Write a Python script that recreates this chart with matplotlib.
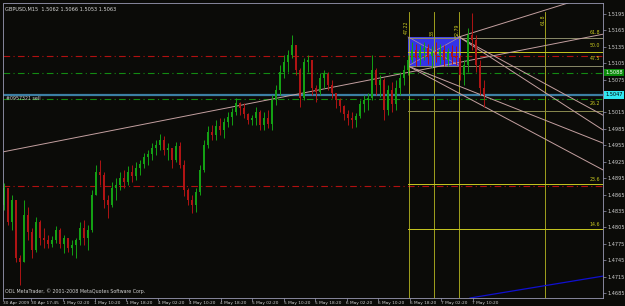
import matplotlib
matplotlib.use('Agg')
import matplotlib.pyplot as plt
import matplotlib.transforms as mtransforms
from matplotlib.patches import Rectangle

# GBPUSD M15, candles grouped by 4 bars
first_open = 1.4846
highs = [1.4886, 1.4873, 1.4864, 1.4855, 1.4754, 1.4855, 1.4842, 1.4804, 1.4824, 1.4818,
         1.4804, 1.4791, 1.4789, 1.4808, 1.4804, 1.4791, 1.4786, 1.4782, 1.4786, 1.4815,
         1.4818, 1.4809, 1.4873, 1.4919, 1.4928, 1.4906, 1.4864, 1.4888, 1.4895, 1.4906,
         1.4910, 1.4917, 1.4919, 1.4924, 1.4928, 1.4941, 1.4946, 1.4959, 1.4965, 1.4976,
         1.4972, 1.4959, 1.4950, 1.4961, 1.4961, 1.4928, 1.4877, 1.4864, 1.4877, 1.4919,
         1.4965, 1.4990, 1.4992, 1.5001, 1.5005, 1.5005, 1.5016, 1.5023, 1.5041, 1.5034,
         1.5032, 1.5014, 1.5010, 1.5025, 1.5020, 1.5016, 1.5020, 1.5047, 1.5065, 1.5102,
         1.5120, 1.5129, 1.5157, 1.5138, 1.5096, 1.5115, 1.5120, 1.5107, 1.5065, 1.5087,
         1.5093, 1.5089, 1.5074, 1.5051, 1.5041, 1.5029, 1.5020, 1.5016, 1.5014, 1.5038,
         1.5047, 1.5051, 1.5120, 1.5096, 1.5084, 1.5078, 1.5065, 1.5071, 1.5074, 1.5089,
         1.5102, 1.5120, 1.5144, 1.5140, 1.5138, 1.5144, 1.5140, 1.5136, 1.5144, 1.5140,
         1.5138, 1.5133, 1.5138, 1.5136, 1.5120, 1.5111, 1.5169, 1.5197, 1.5157, 1.5111,
         1.5074]
lows = [1.4837, 1.4809, 1.4800, 1.4742, 1.4700, 1.4742, 1.4782, 1.4749, 1.4760, 1.4773,
        1.4767, 1.4767, 1.4769, 1.4777, 1.4767, 1.4758, 1.4760, 1.4754, 1.4749, 1.4773,
        1.4773, 1.4764, 1.4797, 1.4864, 1.4882, 1.4840, 1.4822, 1.4842, 1.4855, 1.4873,
        1.4877, 1.4882, 1.4888, 1.4892, 1.4901, 1.4914, 1.4919, 1.4928, 1.4937, 1.4946,
        1.4937, 1.4928, 1.4914, 1.4924, 1.4914, 1.4862, 1.4846, 1.4831, 1.4833, 1.4864,
        1.4906, 1.4950, 1.4965, 1.4965, 1.4974, 1.4968, 1.4988, 1.4992, 1.5010, 1.5010,
        1.5005, 1.4994, 1.4992, 1.4992, 1.4983, 1.4983, 1.4987, 1.4983, 1.5029, 1.5047,
        1.5078, 1.5089, 1.5115, 1.5084, 1.5025, 1.5038, 1.5089, 1.5047, 1.5034, 1.5047,
        1.5060, 1.5056, 1.5041, 1.5023, 1.5016, 1.5001, 1.4992, 1.4987, 1.4988, 1.5005,
        1.5016, 1.5020, 1.5038, 1.5047, 1.5043, 1.5001, 1.5010, 1.5016, 1.5020, 1.5047,
        1.5065, 1.5084, 1.5107, 1.5100, 1.5102, 1.5111, 1.5104, 1.5096, 1.5107, 1.5104,
        1.5100, 1.5100, 1.5104, 1.5102, 1.5074, 1.5065, 1.5089, 1.5129, 1.5089, 1.5047,
        1.5025]
closes = [1.4877, 1.4815, 1.4855, 1.4749, 1.4742, 1.4828, 1.4797, 1.4764, 1.4815, 1.4786,
          1.4782, 1.4775, 1.4782, 1.4800, 1.4775, 1.4786, 1.4767, 1.4773, 1.4782, 1.4804,
          1.4786, 1.4800, 1.4864, 1.4906, 1.4901, 1.4855, 1.4846, 1.4877, 1.4882, 1.4895,
          1.4888, 1.4906, 1.4899, 1.4914, 1.4921, 1.4934, 1.4939, 1.4950, 1.4956, 1.4965,
          1.4946, 1.4950, 1.4928, 1.4954, 1.4919, 1.4873, 1.4855, 1.4846, 1.4870, 1.4910,
          1.4956, 1.4979, 1.4974, 1.4990, 1.4983, 1.4998, 1.5007, 1.5016, 1.5032, 1.5023,
          1.5012, 1.5001, 1.5005, 1.5016, 1.4992, 1.5005, 1.4994, 1.5038, 1.5056, 1.5089,
          1.5107, 1.5120, 1.5138, 1.5093, 1.5041, 1.5107, 1.5111, 1.5060, 1.5052, 1.5078,
          1.5085, 1.5065, 1.5051, 1.5038, 1.5027, 1.5012, 1.5005, 1.5001, 1.5009, 1.5030,
          1.5038, 1.5041, 1.5093, 1.5065, 1.5074, 1.5020, 1.5056, 1.5030, 1.5060, 1.5078,
          1.5093, 1.5111, 1.5129, 1.5115, 1.5129, 1.5133, 1.5118, 1.5126, 1.5120, 1.5129,
          1.5111, 1.5126, 1.5118, 1.5115, 1.5084, 1.5102, 1.5157, 1.5147, 1.5102, 1.5060,
          1.5047]
opens = [first_open] + closes[:-1]

price_ticks = [1.4685, 1.4715, 1.4745, 1.4775, 1.4805, 1.4835, 1.4865, 1.4895, 1.4925,
               1.4955, 1.4985, 1.5015, 1.5045, 1.5075, 1.5105, 1.5135, 1.5165, 1.5195]
time_labels = ['30 Apr 2009', '30 Apr 17:45', '1 May 02:20', '1 May 10:20', '1 May 18:20',
               '4 May 02:20', '4 May 10:20', '4 May 18:20', '5 May 02:20', '5 May 10:20',
               '5 May 18:20', '6 May 02:20', '6 May 10:20', '6 May 18:20', '7 May 02:20',
               '7 May 10:20']

# objects on the chart
red_levels = [1.5118, 1.4881]
green_levels = [1.5088, 1.5040]
order_price = 1.5047
fib_box = (405, 457, 1.5100, 1.5153)
fib_vlines = [406, 431, 456, 542]
fib_hlevels = [(1.5151, '#8a8a6a'), (1.5126, '#c8c820'), (1.5100, '#8a8a6a'),
               (1.5018, '#8a8a50'), (1.4884, '#c8c820'), (1.4802, '#c8c820')]
fib_right_labels = [(1.5162, '61.8'), (1.5138, '50.0'), (1.5113, '47.5'),
                    (1.5031, '26.2'), (1.4893, '23.6'), (1.4811, '14.6')]
fib_top_labels = [(403, 1.5170, '47.22'), (429, 1.5160, '38'), (454, 1.5165, '52.79'),
                  (540, 1.5185, '61.8')]
trend_lines = [((0, 1.4943), (600, 1.5158)),
               ((456, 1.5153), (565, 1.5215)),
               ((456, 1.5153), (600, 1.5010)),
               ((456, 1.5153), (600, 1.4983)),
               ((405, 1.5100), (600, 1.4959)),
               ((405, 1.5100), (600, 1.4910))]
blue_line = ((467, 1.4676), (600, 1.4716))

bg = '#0b0b08'
fig = plt.figure(figsize=(6.25, 3.06), dpi=100, facecolor=bg)
ax = fig.add_axes([3 / 625, 8 / 306, 600 / 625, 295 / 306], facecolor=bg)
ax.set_xlim(0, 600)
ax.set_ylim(1.4676, 1.5215)

# fibo box and levels
x0, x1, y0, y1 = fib_box
ax.add_patch(Rectangle((x0, y0), x1 - x0, y1 - y0, facecolor='#3434e6', edgecolor='#5050ff',
                       lw=0.6, zorder=1))
ax.plot([x0, x1], [y0, y1], color='#b090a0', lw=0.5, zorder=1.5)
ax.plot([x0, x1], [y1, y0], color='#b090a0', lw=0.5, zorder=1.5)
for xv in fib_vlines:
    ax.axvline(xv, ymax=0.97, color='#b8b820', lw=0.6, zorder=1.2)
for lvl, col in fib_hlevels:
    ax.plot([x0, 600], [lvl, lvl], color=col, lw=0.7, zorder=1.2)
for lvl, txt in fib_right_labels:
    ax.text(597, lvl, txt, color='#c8c820', fontsize=3.4, ha='right', va='center')
for xv, yv, txt in fib_top_labels:
    ax.text(xv, yv, txt, color='#c8c820', fontsize=3.4, rotation=90, ha='center', va='center')

# horizontal levels
for lvl in red_levels:
    ax.axhline(lvl, color='#b01010', lw=0.8, ls=(0, (6, 3, 1, 3)), zorder=1.1)
for lvl in green_levels:
    ax.axhline(lvl, color='#138a13', lw=0.8, ls=(0, (6, 3, 1, 3)), zorder=1.1)
ax.axhline(order_price, color='#3c7fa4', lw=1.6, zorder=1.3)
ax.text(3, order_price - 0.0002, '#0957321 sell', color='#d0d0d0', fontsize=3.4,
        va='top', ha='left')

for (xa, ya), (xb, yb) in trend_lines:
    ax.plot([xa, xb], [ya, yb], color='#c4a0a0', lw=0.7, zorder=1.4)
ax.plot([blue_line[0][0], blue_line[1][0]], [blue_line[0][1], blue_line[1][1]],
        color='#1010d0', lw=0.9, zorder=1.4)

# candles
xs = [4 * i + 1 for i in range(len(closes))]
for x, o, h, l, c in zip(xs, opens, highs, lows, closes):
    col = '#14a014' if c >= o else '#b01414'
    ax.vlines(x, l, h, color=col, lw=0.7, zorder=2)
    ax.bar(x, max(abs(c - o), 0.00012), bottom=min(o, c), width=2.2, color=col,
           lw=0, zorder=2)

# axes styling
for side in ['top', 'bottom', 'left', 'right']:
    ax.spines[side].set_color('#9a9ab4')
    ax.spines[side].set_linewidth(0.6)
ax.spines['left'].set_linestyle((0, (1, 1)))
ax.spines['top'].set_linestyle((0, (1, 1)))
ax.yaxis.tick_right()
ax.set_yticks(price_ticks)
# the 1.5045 label sits under the bid box on the scale
ax.set_yticklabels(['' if p == 1.5045 else '%.4f' % p for p in price_ticks])
tick_x = [0, 28] + [60 + 31.5 * i for i in range(len(time_labels) - 2)]
ax.set_xticks(tick_x)
ax.set_xticklabels(time_labels)
ax.tick_params(axis='y', colors='#9a9ab4', labelcolor='#d0d0d0', labelsize=3.6,
               length=2, width=0.5, pad=1.5)
ax.tick_params(axis='x', colors='#9a9ab4', labelcolor='#d0d0d0', labelsize=3.1,
               length=2, width=0.5, pad=0.5)
for lab in ax.get_xticklabels():
    lab.set_horizontalalignment('left')

# price labels on the scale
tr = mtransforms.blended_transform_factory(ax.transAxes, ax.transData)
ax.text(1.004, 1.5088, '1.5088', transform=tr, fontsize=3.6, color='#ffffff', va='center',
        ha='left', bbox=dict(boxstyle='square,pad=0.25', fc='#0a8a0a', ec='none'), zorder=5)
ax.text(1.004, order_price, '1.5047', transform=tr, fontsize=3.6, color='#000000',
        va='center', ha='left',
        bbox=dict(boxstyle='square,pad=0.25', fc='#30e8f0', ec='none'), zorder=5)

ax.text(0.003, 0.987, 'GBPUSD,M15  1.5062 1.5066 1.5053 1.5063', transform=ax.transAxes,
        fontsize=3.6, color='#d8d8d8', va='top', ha='left')
ax.text(0.003, 0.012, 'ODL MetaTrader, \u00a9 2001-2008 MetaQuotes Software Corp.',
        transform=ax.transAxes, fontsize=3.4, color='#d0d0d0', va='bottom', ha='left')

fig.savefig('out.png', dpi=100, facecolor=bg)
